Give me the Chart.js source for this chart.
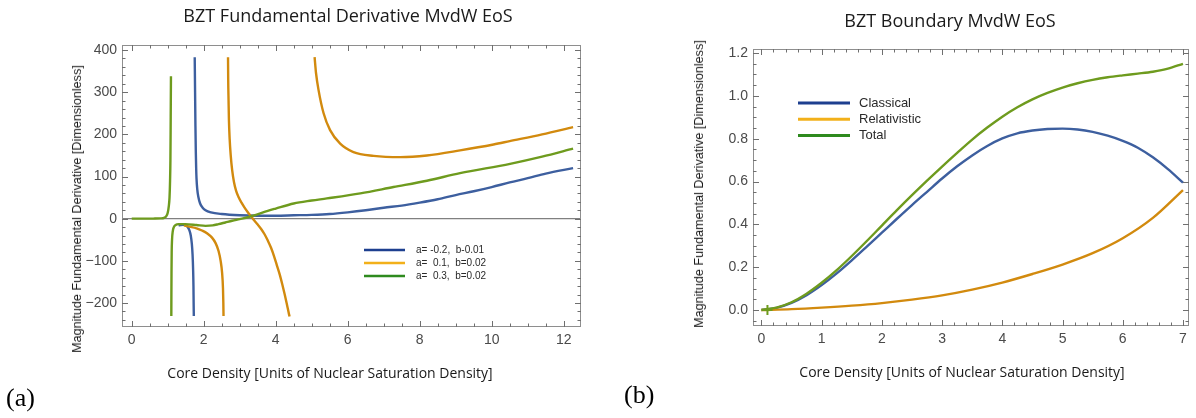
<!DOCTYPE html>
<html>
<head>
<meta charset="utf-8">
<script src="https://cdn.jsdelivr.net/npm/chart.js@4.4.0/dist/chart.umd.min.js"></script>
<style>
  body { margin: 0; background: #fff; width: 1196px; height: 418px; position: relative; overflow: hidden; }
  canvas { position: absolute; top: 0; }
  #chartA { left: 0; }
  #chartB { left: 600px; }
  .lbl { position: absolute; white-space: nowrap; color: #1a1a1a; transform: translate(-50%, -50%); }
  .ttl { font: 18px "Open Sans", sans-serif; }
  .xt { font: 14px "Open Sans", sans-serif; }
  .yt { font: 12.6px "Liberation Sans", sans-serif; transform: translate(-50%, -50%) rotate(-90deg); }
  .tag { font: 26px "Liberation Serif", serif; color: #000; transform: none; line-height: 30px; }
</style>
</head>
<body>
<canvas id="chartA" width="600" height="418"></canvas>
<canvas id="chartB" width="596" height="418"></canvas>

<div class="lbl ttl" style="left:348px; top:15px;">BZT Fundamental Derivative MvdW EoS</div>
<div class="lbl xt" style="left:330px; top:372px;">Core Density [Units of Nuclear Saturation Density]</div>
<div class="lbl yt" style="left:77px; top:209px;">Magnitude Fundamental Derivative [Dimensionless]</div>
<div class="lbl tag" style="left:6px; top:383px;">(a)</div>

<div class="lbl ttl" style="left:950px; top:20px;">BZT Boundary MvdW EoS</div>
<div class="lbl xt" style="left:962px; top:371px;">Core Density [Units of Nuclear Saturation Density]</div>
<div class="lbl yt" style="left:699px; top:184px;">Magnitude Fundamental Derivative [Dimensionless]</div>
<div class="lbl tag" style="left:624px; top:380px;">(b)</div>

<script>
// ---- (a) dados: [densidade, derivada] por ramo
const blueUpper = [[1.75,383],[1.76,300],[1.77,220],[1.78,160],[1.79,120],[1.80,95],[1.82,70],[1.85,52],[1.9,36],[1.97,26],[2.05,20],[2.2,15],[2.5,11],[3.0,8],[3.5,7],[4.0,7],[4.5,8],[5.0,9],[5.5,11],[6.0,15],[6.5,20],[7.0,26],[7.5,31],[8.0,38],[8.5,46],[9.0,56],[9.5,65],[10.0,75],[10.5,86],[11.0,96],[11.5,107],[12.26,120]];
const blueLower = [[1.3,-16],[1.36,-15],[1.43,-14.5],[1.49,-15.5],[1.55,-19],[1.6,-27],[1.64,-40],[1.67,-60],[1.69,-85],[1.705,-120],[1.715,-160],[1.72,-200],[1.725,-231]];
const orangeUpperA = [[2.675,383],[2.68,330],[2.69,280],[2.70,235],[2.72,190],[2.75,150],[2.79,115],[2.84,87],[2.9,66],[2.97,51],[3.05,38],[3.13,27],[3.22,16],[3.31,6],[3.4,-4],[3.5,-14],[3.6,-25],[3.69,-37],[3.78,-52],[3.87,-69],[3.95,-88],[4.03,-110],[4.11,-132],[4.18,-155],[4.25,-180],[4.31,-203],[4.37,-227],[4.385,-232]];
const orangeLowerA = [[1.45,-16],[1.6,-19],[1.8,-23],[1.95,-28],[2.1,-35],[2.23,-45],[2.33,-58],[2.41,-76],[2.47,-100],[2.51,-128],[2.535,-165],[2.545,-200],[2.55,-231]];
const orangeUpperB = [[5.08,383],[5.12,345],[5.19,305],[5.33,250],[5.51,210],[5.79,178],[6.16,158],[6.72,149],[7.46,146],[8.2,150],[9.12,162],[10.05,176],[10.5,184],[11.4,200],[12.26,217]];
const greenUpper = [[0,0],[0.3,0],[0.6,0.2],[0.8,0.6],[0.9,2],[0.96,6],[1.0,14],[1.03,30],[1.05,50],[1.065,90],[1.075,140],[1.08,200],[1.085,270],[1.09,338]];
const greenLower = [[1.10,-231],[1.102,-180],[1.105,-130],[1.11,-80],[1.12,-50],[1.14,-30],[1.17,-20],[1.22,-15],[1.3,-13],[1.49,-13],[1.8,-15],[2.05,-17],[2.25,-16],[2.41,-13],[2.6,-9],[2.79,-5],[3.0,-1],[3.25,4],[3.45,9],[3.65,15],[4.0,24],[4.5,36],[5.0,43],[5.42,48],[6.35,60],[7.27,75],[8.2,90],[9.12,108],[10.51,130],[11.4,147],[12.26,166]];
const legendA = ['a= -0.2,  b-0.01', 'a=  0.1,  b=0.02', 'a=  0.3,  b=0.02'];

// ---- (b) dados
const classical = [[0,0],[0.25,0.010],[0.5,0.033],[0.75,0.069],[1,0.116],[1.25,0.171],[1.5,0.232],[1.75,0.296],[2,0.361],[2.25,0.426],[2.5,0.490],[2.75,0.552],[3,0.614],[3.25,0.671],[3.5,0.722],[3.75,0.766],[4,0.801],[4.25,0.825],[4.5,0.838],[4.75,0.845],[5,0.847],[5.25,0.843],[5.5,0.832],[5.75,0.814],[6,0.790],[6.25,0.758],[6.5,0.713],[6.75,0.658],[7,0.595]];
const relativistic = [[0,0],[0.5,0.004],[1,0.011],[1.5,0.02],[2,0.032],[2.5,0.048],[3,0.068],[3.5,0.095],[4,0.128],[4.5,0.168],[5,0.212],[5.5,0.265],[6,0.335],[6.5,0.43],[7,0.56]];
const total = [[0,0],[0.25,0.011],[0.5,0.036],[0.75,0.076],[1,0.127],[1.25,0.186],[1.5,0.252],[1.75,0.322],[2,0.394],[2.25,0.466],[2.5,0.536],[2.75,0.604],[3,0.670],[3.25,0.734],[3.5,0.796],[3.75,0.852],[4,0.903],[4.25,0.947],[4.5,0.984],[4.75,1.014],[5,1.039],[5.25,1.059],[5.5,1.075],[5.75,1.087],[6,1.096],[6.25,1.104],[6.5,1.113],[6.75,1.127],[7,1.150]];
const startMark = [[0.1,0]];
const legendB = ['Classical', 'Relativistic', 'Total'];

// cores
const AZUL = '#3d5f9f', LARANJA = '#d28a0e', VERDE = '#6e9b1e';
const legendColors = ['#1d3f8f', '#f2b01a', '#2e8a1e'];

const pts = arr => arr.map(p => ({ x: p[0], y: p[1] }));

function linha(data, cor, ordem) {
  return {
    data: pts(data),
    borderColor: cor,
    borderWidth: 2.4,
    pointRadius: 0,
    fill: false,
    cubicInterpolationMode: 'monotone',
    order: ordem
  };
}

// moldura com marcas para dentro (estilo Mathematica)
const moldura = {
  id: 'moldura',
  beforeDatasetsDraw(chart, args, opts) {
    if (!opts.zeroLine) return;
    const { ctx, chartArea: a, scales: { y } } = chart;
    const py = y.getPixelForValue(0);
    ctx.save();
    ctx.strokeStyle = '#808080';
    ctx.lineWidth = 1.3;
    ctx.beginPath();
    ctx.moveTo(a.left, py);
    ctx.lineTo(a.right, py);
    ctx.stroke();
    ctx.restore();
  },
  afterDraw(chart, args, opts) {
    const { ctx, chartArea: a, scales: { x, y } } = chart;
    ctx.save();
    ctx.strokeStyle = '#8e8e8e';
    ctx.lineWidth = 1;
    ctx.strokeRect(a.left + 0.5, a.top + 0.5, a.right - a.left - 1, a.bottom - a.top - 1);

    ctx.strokeStyle = '#6f6f6f';
    const marcas = (scale, step, major, horiz) => {
      const first = Math.ceil(scale.min / step - 1e-9);
      for (let k = first; k * step <= scale.max + 1e-9; k++) {
        const v = k * step;
        const isMajor = Math.abs(v / major - Math.round(v / major)) < 1e-6;
        const len = isMajor ? 6 : 3.5;
        const p = Math.round(scale.getPixelForValue(v)) + 0.5;
        ctx.beginPath();
        if (horiz) {
          ctx.moveTo(p, a.bottom); ctx.lineTo(p, a.bottom - len);
          ctx.moveTo(p, a.top); ctx.lineTo(p, a.top + len);
        } else {
          ctx.moveTo(a.left, p); ctx.lineTo(a.left + len, p);
          ctx.moveTo(a.right, p); ctx.lineTo(a.right - len, p);
        }
        ctx.stroke();
      }
    };
    marcas(x, opts.minorX, opts.majorX, true);
    marcas(y, opts.minorY, opts.majorY, false);
    ctx.restore();
  }
};

// legenda dentro da área do gráfico
const legendaInterna = {
  id: 'legendaInterna',
  afterDatasetsDraw(chart, args, opts) {
    const ctx = chart.ctx;
    ctx.save();
    ctx.font = opts.font;
    ctx.textBaseline = 'middle';
    opts.labels.forEach((label, i) => {
      const y = opts.y + i * opts.row;
      ctx.strokeStyle = opts.colors[i];
      ctx.lineWidth = opts.lineWidth;
      ctx.beginPath();
      ctx.moveTo(opts.x, y);
      ctx.lineTo(opts.x + opts.len, y);
      ctx.stroke();
      ctx.fillStyle = '#2a2a2a';
      ctx.fillText(label, opts.x + opts.len + opts.gap, y);
    });
    ctx.restore();
  }
};

const tickFont = { family: '"Liberation Sans", Arial, sans-serif', size: 14 };

function eixo(min, max, step, fmt, fixo, horiz) {
  return {
    type: 'linear',
    min: min,
    max: max,
    grid: { display: false, drawTicks: false },
    border: { display: false },
    ticks: {
      stepSize: step,
      includeBounds: false,
      color: '#4a4a4a',
      font: tickFont,
      padding: 5,
      maxRotation: 0,
      callback: fmt
    },
    afterFit(s) { if (horiz) s.height = fixo; else s.width = fixo; }
  };
}

const menos = v => (v < 0 ? '\u2212' + Math.abs(v) : String(v));

new Chart(document.getElementById('chartA'), {
  type: 'line',
  data: {
    datasets: [
      linha(blueUpper, AZUL, 3),
      linha(blueLower, AZUL, 3),
      linha(orangeUpperA, LARANJA, 2),
      linha(orangeLowerA, LARANJA, 2),
      linha(orangeUpperB, LARANJA, 2),
      linha(greenUpper, VERDE, 1),
      linha(greenLower, VERDE, 1)
    ]
  },
  options: {
    responsive: false,
    animation: false,
    layout: { padding: { left: 0, right: 19, top: 45, bottom: 0 } },
    scales: {
      x: eixo(-0.27, 12.48, 2, v => menos(v), 91, true),
      y: eixo(-257, 412, 100, v => menos(v), 122, false)
    },
    plugins: {
      legend: { display: false },
      tooltip: { enabled: false },
      moldura: { zeroLine: true, minorX: 0.5, majorX: 2, minorY: 20, majorY: 100 },
      legendaInterna: {
        labels: legendA, colors: legendColors, x: 364, y: 250, row: 13,
        len: 41, gap: 11, lineWidth: 2.5, font: '10px "Liberation Sans", Arial, sans-serif'
      }
    }
  },
  plugins: [moldura, legendaInterna]
});

new Chart(document.getElementById('chartB'), {
  type: 'line',
  data: {
    datasets: [
      linha(classical, AZUL, 3),
      linha(relativistic, LARANJA, 2),
      linha(total, VERDE, 1),
      {
        data: pts(startMark),
        showLine: false,
        pointStyle: 'cross',
        pointRadius: 5,
        pointBorderWidth: 2,
        pointBorderColor: VERDE,
        borderColor: VERDE,
        order: 0
      }
    ]
  },
  options: {
    responsive: false,
    animation: false,
    layout: { padding: { left: 0, right: 1, top: 49, bottom: 0 } },
    scales: {
      x: eixo(-0.14, 7.1, 1, v => String(v), 92, true),
      y: eixo(-0.075, 1.219, 0.2, v => v.toFixed(1), 153, false)
    },
    plugins: {
      legend: { display: false },
      tooltip: { enabled: false },
      moldura: { zeroLine: false, minorX: 0.2, majorX: 1, minorY: 0.05, majorY: 0.2 },
      legendaInterna: {
        labels: legendB, colors: legendColors, x: 198, y: 103, row: 16.3,
        len: 52, gap: 9, lineWidth: 3, font: '13px "Liberation Sans", Arial, sans-serif'
      }
    }
  },
  plugins: [moldura, legendaInterna]
});
</script>
</body>
</html>
